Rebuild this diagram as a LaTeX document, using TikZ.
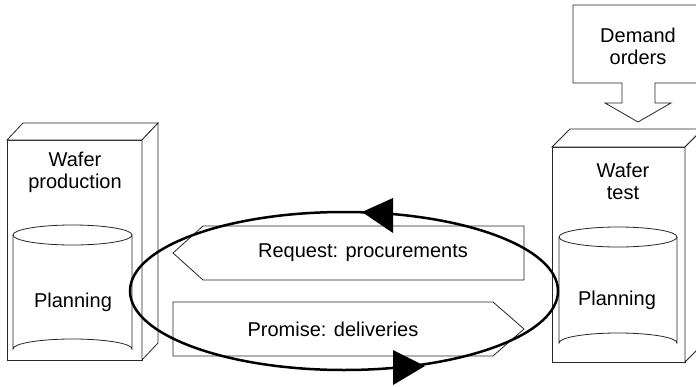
\documentclass[tikz,border=0pt]{standalone}
\usepackage{fontspec}
\setmainfont{Liberation Sans}
\begin{document}
\begin{tikzpicture}[x=1pt,y=-1pt,
  thin line/.style={draw=black!85,line width=0.8pt},
  lbl/.style={align=center,font=\fontsize{20}{22}\selectfont,inner sep=0pt},
  loopline/.style={draw=black,line width=2.5pt}]
\useasboundingbox (0,0) rectangle (696,386);
\begin{scope}
\clip (0,0) rectangle (696,386);
% left box
\draw[thin line,fill=white] (7,140) rectangle (142,360);
\draw[thin line,fill=white] (7,140) -- (23,123) -- (158,123) -- (142,140) -- cycle;
\draw[thin line,fill=white] (142,140) -- (158,123) -- (158,343) -- (142,360) -- cycle;
% right box
\draw[thin line,fill=white] (552,147) rectangle (685,362);
\draw[thin line,fill=white] (552,147) -- (570,129) -- (703,129) -- (685,147) -- cycle;
\draw[thin line,fill=white] (685,147) -- (703,129) -- (703,344) -- (685,362) -- cycle;
% demand arrow
\draw[thin line,fill=white] (573,5) -- (702,5) -- (702,83) -- (655,83) -- (655,103) -- (671,103)
  -- (638,122) -- (605,103) -- (622,103) -- (622,83) -- (573,83) -- cycle;
\end{scope}
% cylinders
\draw[thin line] (13,235) -- (13,349) arc[start angle=180,end angle=360,x radius=59.5,y radius=10] -- (132,235);
\draw[thin line] (72.5,235) ellipse[x radius=59.5,y radius=10];
\draw[thin line] (559,237) -- (559,343) arc[start angle=180,end angle=360,x radius=59,y radius=10] -- (677,237);
\draw[thin line] (618,237) ellipse[x radius=59,y radius=10];
% labels
\node[lbl] (wp) at (75,172) {Wafer\\production};
\node[lbl] (wt) at (623,181) {Wafer\\test};
\node[lbl] (dem) at (638,46) {Demand\\orders};
\node[lbl] (pl1) at (73,302) {Planning};
\node[lbl] (pl2) at (617,300) {Planning};
% middle arrows
\draw[thin line,fill=white] (524,226) -- (203,226) -- (173,253) -- (203,280) -- (524,280) -- cycle;
\draw[thin line,fill=white] (173,302) -- (493,302) -- (524,329) -- (493,356) -- (173,356) -- cycle;
\node[lbl] (req) at (363,253) {Request: procurements};
\node[lbl] (pro) at (333,329) {Promise: deliveries};
% loop
\draw[loopline] (344,291) ellipse[x radius=214,y radius=79];
\fill (362,212) -- (393,198) -- (393,233) -- cycle;
\fill (393,350) -- (425,366) -- (393,385) -- cycle;
\end{tikzpicture}
\end{document}
